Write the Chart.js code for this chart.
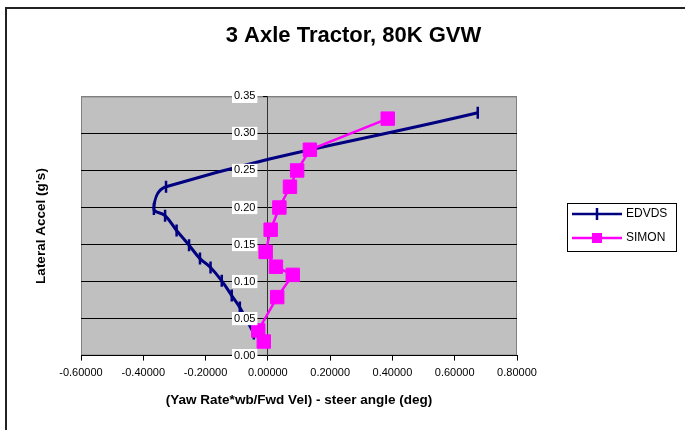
<!DOCTYPE html>
<html>
<head>
<meta charset="utf-8">
<script src="https://cdn.jsdelivr.net/npm/chart.js@4.4.1/dist/chart.umd.min.js"></script>
<style>
  html, body { margin: 0; padding: 0; background: #fff; }
  #wrap { position: relative; width: 685px; height: 430px; overflow: hidden; }
  #frame { position: absolute; left: 5px; top: 7px; width: 720px; height: 460px; border-left: 2px solid #222; border-top: 2px solid #222; }
  canvas { position: absolute; left: 0; top: 0; }
</style>
</head>
<body>
<div id="wrap"><div id="frame"></div><canvas id="chart" width="685" height="430"></canvas></div>
<script>
// data
const edvdsX = [0.674, -0.327, -0.366, -0.330, -0.293, -0.253, -0.218, -0.184, -0.148, -0.116, -0.090, -0.045];
const edvdsY = [0.328, 0.228, 0.198, 0.189, 0.169, 0.149, 0.131, 0.119, 0.101, 0.081, 0.065, 0.030];
const simonX = [0.385, 0.135, 0.094, 0.071, 0.037, 0.009, -0.007, 0.026, 0.080, 0.030, -0.031, -0.013];
const simonY = [0.320, 0.278, 0.250, 0.228, 0.200, 0.170, 0.140, 0.120, 0.109, 0.079, 0.034, 0.019];
const xTicks = [-0.6, -0.4, -0.2, 0, 0.2, 0.4, 0.6, 0.8];
const yTicks = [0, 0.05, 0.10, 0.15, 0.20, 0.25, 0.30, 0.35];

const NAVY = "#000080";
const PINK = "#ff00ff";

Chart.defaults.font.family = '"Liberation Sans", Arial, sans-serif';
Chart.defaults.color = "#000";

const toPoints = (xs, ys) => xs.map((x, i) => ({ x, y: ys[i] }));
const fixedTicks = list => s => { s.ticks = list.map(v => ({ value: v })); };

// legend sample: line with the marker in the middle, excel style
function legendSample(i) {
  const c = document.createElement("canvas");
  c.width = 50; c.height = 16;
  const g = c.getContext("2d");
  const col = i === 0 ? NAVY : PINK;
  g.strokeStyle = col;
  g.lineWidth = 2.5;
  g.beginPath(); g.moveTo(0, 8); g.lineTo(50, 8); g.stroke();
  if (i === 0) {
    g.beginPath(); g.moveTo(25, 2); g.lineTo(25, 14); g.stroke();
  } else {
    g.fillStyle = col;
    g.fillRect(20, 3, 10, 10);
  }
  return c;
}

// grey plot area with border
const plotArea = {
  id: "plotArea",
  beforeDraw(chart) {
    const { ctx, chartArea: a } = chart;
    ctx.save();
    ctx.fillStyle = "#c0c0c0";
    ctx.fillRect(a.left, a.top, a.width, a.height);
    ctx.strokeStyle = "#808080";
    ctx.lineWidth = 1;
    ctx.strokeRect(a.left + 0.5, a.top + 0.5, a.width - 1, a.height - 1);
    ctx.restore();
  }
};

// chart.js caps a side legend to a share of the width, let it keep its size
const legendWidth = {
  id: "legendWidth",
  afterInit(chart) {
    const lg = chart.legend;
    const fit = lg.fit;
    lg.fit = function () {
      this.maxWidth = 400;
      fit.call(this);
      this.width = 116;
    };
  }
};

// box round the legend
const legendBox = {
  id: "legendBox",
  afterDraw(chart) {
    const hb = chart.legend.legendHitBoxes;
    if (!hb || !hb.length) return;
    const left = Math.min(...hb.map(b => b.left)) - 7;
    const top = Math.min(...hb.map(b => b.top)) - 5.5;
    const bottom = Math.max(...hb.map(b => b.top + b.height)) + 6.5;
    const right = Math.max(...hb.map(b => b.left + b.width)) + 9;
    const ctx = chart.ctx;
    ctx.save();
    ctx.strokeStyle = "#000";
    ctx.lineWidth = 1;
    ctx.strokeRect(Math.round(left) + 0.5, Math.round(top) + 0.5, Math.round(right - left), Math.round(bottom - top));
    ctx.restore();
  }
};

new Chart(document.getElementById("chart"), {
  type: "scatter",
  data: {
    datasets: [
      {
        label: "EDVDS",
        data: toPoints(edvdsX, edvdsY),
        showLine: true,
        borderColor: NAVY,
        backgroundColor: NAVY,
        borderWidth: 3,
        tension: 0.4,
        pointStyle: "line",
        pointRotation: 90,
        pointRadius: 6,
        pointBorderWidth: 2.5,
        pointBorderColor: NAVY,
        order: 1
      },
      {
        label: "SIMON",
        data: toPoints(simonX, simonY),
        showLine: true,
        borderColor: PINK,
        backgroundColor: PINK,
        borderWidth: 2.5,
        tension: 0,
        pointStyle: "rect",
        pointRadius: 9.5,
        pointBorderWidth: 1,
        pointBorderColor: PINK,
        pointBackgroundColor: PINK,
        order: 0
      }
    ]
  },
  options: {
    responsive: false,
    animation: false,
    devicePixelRatio: 1,
    events: [],
    layout: { padding: { top: 10, left: 29, right: 7, bottom: 18 } },
    scales: {
      x: {
        type: "linear",
        position: "bottom",
        min: -0.6,
        max: 0.8,
        afterBuildTicks: fixedTicks(xTicks),
        grid: { drawOnChartArea: false, drawTicks: true, tickLength: 5, color: "#000" },
        border: { color: "#000", width: 1 },
        ticks: {
          padding: 6,
          maxRotation: 0,
          autoSkip: false,
          font: { size: 11 },
          callback: v => v.toFixed(5)
        },
        title: {
          display: true,
          text: "(Yaw Rate*wb/Fwd Vel) - steer angle (deg)",
          font: { size: 13.5, weight: "bold" },
          padding: { top: 6, bottom: 4 }
        }
      },
      // value axis drawn where x = 0: line, gridlines and tick marks
      y: {
        type: "linear",
        position: { x: 0 },
        min: 0,
        max: 0.35,
        afterBuildTicks: fixedTicks(yTicks),
        grid: {
          color: c => c.index === yTicks.length - 1 ? "#808080" : "#000",
          tickColor: "#000",
          lineWidth: 1,
          tickLength: 4,
          z: -1
        },
        border: { color: "#333", width: 1 },
        ticks: { display: false }
      },
      // its labels, set just left of the axis line, on top of the data
      yLab: {
        type: "linear",
        position: { x: -0.04 },
        min: 0,
        max: 0.35,
        afterBuildTicks: fixedTicks(yTicks),
        grid: { display: false },
        border: { display: false },
        ticks: {
          z: 1,
          font: { size: 11 },
          showLabelBackdrop: true,
          backdropColor: "#fff",
          backdropPadding: { x: 2, y: 0 },
          callback: v => v.toFixed(2)
        }
      },
      yTitle: {
        type: "linear",
        position: "left",
        grid: { display: false },
        border: { display: false },
        ticks: { display: false },
        title: {
          display: true,
          text: "Lateral Accel (g's)",
          font: { size: 13.5, weight: "bold" },
          padding: { top: 4, bottom: 4 }
        },
        afterFit: s => { s.width = 52; }
      },
      gap: {
        type: "linear",
        position: "right",
        grid: { display: false },
        border: { display: false },
        ticks: { display: false },
        afterFit: s => { s.width = 45; }
      }
    },
    plugins: {
      title: {
        display: true,
        text: "3 Axle Tractor, 80K GVW",
        font: { size: 22, weight: "bold" },
        padding: { top: 13, bottom: 47 }
      },
      legend: {
        position: "right",
        align: "center",
        fullSize: false,
        labels: {
          usePointStyle: true,
          pointStyleWidth: 46,
          padding: 12,
          font: { size: 12 },
          sort: (a, b) => a.datasetIndex - b.datasetIndex,
          generateLabels: chart =>
            Chart.defaults.plugins.legend.labels.generateLabels(chart)
              .map(l => ({ ...l, rotation: 0, pointStyle: legendSample(l.datasetIndex) }))
        }
      },
      tooltip: { enabled: false }
    }
  },
  plugins: [plotArea, legendWidth, legendBox]
});
</script>
</body>
</html>
